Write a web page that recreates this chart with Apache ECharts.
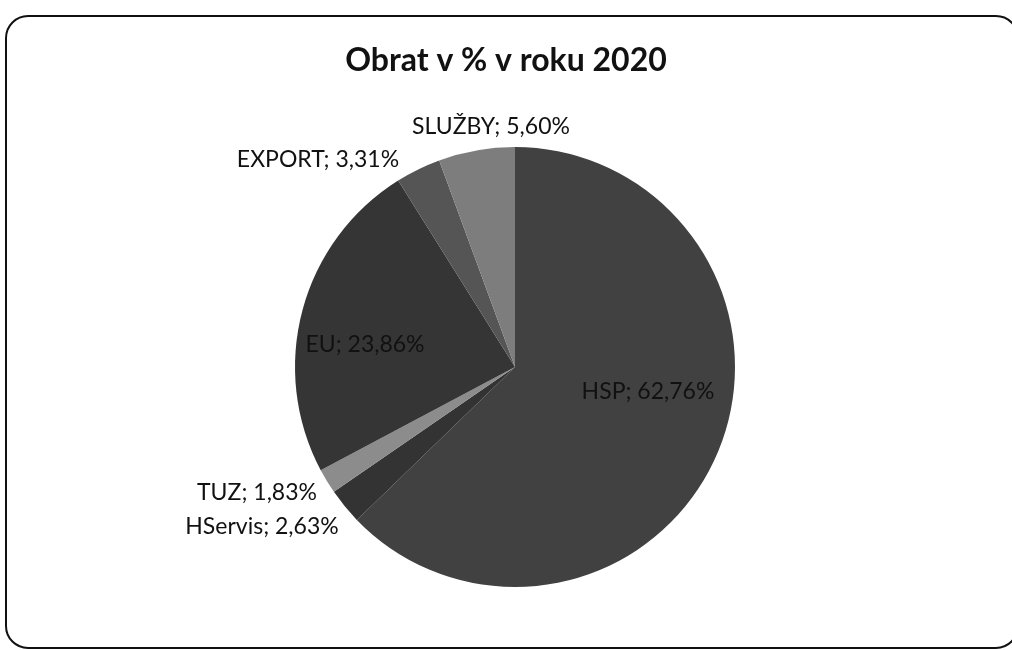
<!DOCTYPE html>
<html>
<head>
<meta charset="utf-8">
<script src="https://cdn.jsdelivr.net/npm/echarts@6/dist/echarts.min.js"></script>
<style>
  html, body { margin: 0; padding: 0; background: #fff; }
  #chart { width: 1012px; height: 650px; }
</style>
</head>
<body>
<div id="chart"></div>
<script>
// data (clockwise from 12 o'clock)
const categories = ['HSP', 'HServis', 'TUZ', 'EU', 'EXPORT', 'SLUŽBY'];
const shares = [62.76, 2.63, 1.83, 23.86, 3.31, 5.60];
const sliceColors = ['#414141', '#333333', '#8c8c8c', '#353535', '#555555', '#7d7d7d'];
// label centres, as Excel placed them
const labelSpots = [[648, 392], [262, 527], [257, 493], [365, 345], [318, 160], [491, 127]];

const chart = echarts.init(document.getElementById('chart'));

const pieData = categories.map((name, i) => ({
  name: name,
  value: shares[i],
  itemStyle: { color: sliceColors[i] }
}));

var option = {
  backgroundColor: '#ffffff',
  animation: false,
  title: {
    text: 'Obrat v % v roku 2020',
    left: 'center',
    top: 40,
    textStyle: {
      fontFamily: 'Lato',
      fontWeight: 'bold',
      fontSize: 32,
      color: '#111'
    }
  },
  graphic: [{
    type: 'rect',
    shape: { x: 6, y: 16, width: 1012, height: 632, r: 22 },
    style: { fill: 'none', stroke: '#111', lineWidth: 2 },
    silent: true,
    z: -1
  }],
  series: [{
    type: 'pie',
    center: [515, 367],
    radius: [0, 220],
    startAngle: 90,
    clockwise: true,
    data: pieData,
    itemStyle: { borderWidth: 0 },
    label: {
      show: true,
      position: 'outside',
      fontFamily: 'Lato',
      fontSize: 23,
      color: '#111',
      formatter: p => p.name + '; ' + p.value.toFixed(2).replace('.', ',') + '%'
    },
    labelLine: { show: false },
    labelLayout: p => ({
      x: labelSpots[p.dataIndex][0],
      y: labelSpots[p.dataIndex][1],
      align: 'center',
      verticalAlign: 'middle'
    })
  }]
};

chart.setOption(option);
</script>
</body>
</html>
